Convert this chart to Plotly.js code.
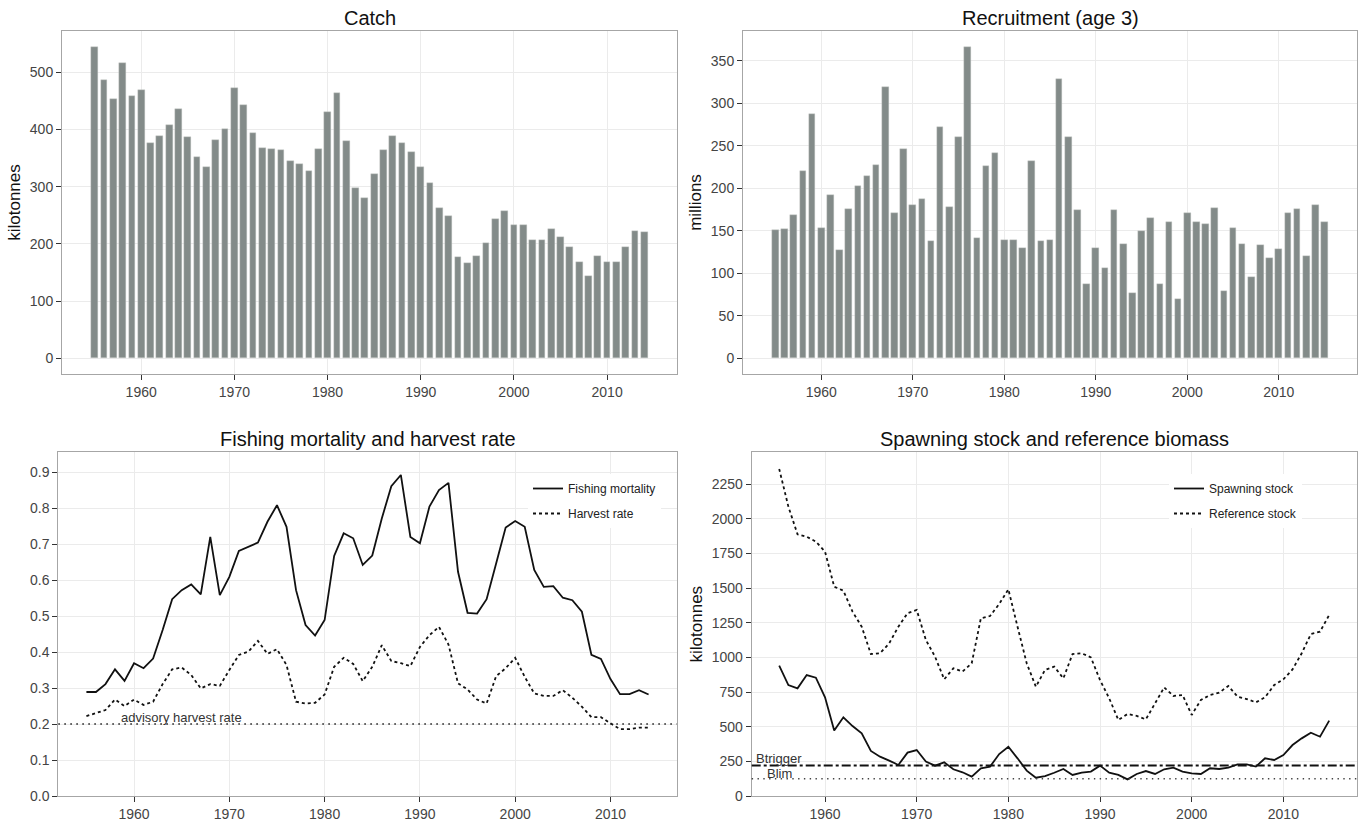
<!DOCTYPE html>
<html>
<head>
<meta charset="utf-8">
<script src="https://cdn.plot.ly/plotly-3.0.1.min.js"></script>
<style>html,body{margin:0;padding:0;background:#fff;}#chart{width:1364px;height:821px;}</style>
</head>
<body>
<div id="chart"></div>
<script>
// ---------- data ----------
const catchYears = [1955,1956,1957,1958,1959,1960,1961,1962,1963,1964,1965,1966,1967,1968,1969,1970,1971,1972,1973,1974,1975,1976,1977,1978,1979,1980,1981,1982,1983,1984,1985,1986,1987,1988,1989,1990,1991,1992,1993,1994,1995,1996,1997,1998,1999,2000,2001,2002,2003,2004,2005,2006,2007,2008,2009,2010,2011,2012,2013,2014];
const catchKt = [544,486,454,516,458,469,376,388,407,436,386,352,335,381,401,473,443,394,368,366,364,344,339,328,365,431,464,379,297,280,322,364,389,376,361,334,307,262,249,177,167,179,201,243,258,233,233,207,206,226,212,194,169,144,179,168,169,194,222,220];

const recYears = [1955,1956,1957,1958,1959,1960,1961,1962,1963,1964,1965,1966,1967,1968,1969,1970,1971,1972,1973,1974,1975,1976,1977,1978,1979,1980,1981,1982,1983,1984,1985,1986,1987,1988,1989,1990,1991,1992,1993,1994,1995,1996,1997,1998,1999,2000,2001,2002,2003,2004,2005,2006,2007,2008,2009,2010,2011,2012,2013,2014,2015];
const recruitMillions = [151,152,169,220,288,153,192,127,176,203,215,228,319,171,246,180,187,138,272,178,260,366,142,226,242,139,139,130,232,138,139,329,260,174,88,130,106,174,135,77,150,165,87,161,70,171,161,158,177,79,153,135,96,133,118,129,171,176,120,180,160];

const fmYears = [1955,1956,1957,1958,1959,1960,1961,1962,1963,1964,1965,1966,1967,1968,1969,1970,1971,1972,1973,1974,1975,1976,1977,1978,1979,1980,1981,1982,1983,1984,1985,1986,1987,1988,1989,1990,1991,1992,1993,1994,1995,1996,1997,1998,1999,2000,2001,2002,2003,2004,2005,2006,2007,2008,2009,2010,2011,2012,2013,2014];
const fishingMortality = [0.289,0.289,0.311,0.352,0.320,0.369,0.355,0.382,0.461,0.547,0.572,0.588,0.560,0.720,0.558,0.609,0.681,0.693,0.704,0.762,0.808,0.748,0.572,0.475,0.446,0.489,0.667,0.730,0.716,0.642,0.668,0.771,0.861,0.892,0.720,0.702,0.804,0.850,0.870,0.623,0.509,0.507,0.547,0.646,0.746,0.764,0.748,0.628,0.581,0.583,0.551,0.544,0.512,0.392,0.381,0.325,0.283,0.283,0.294,0.282];
const harvestRate = [0.222,0.230,0.239,0.268,0.250,0.268,0.253,0.262,0.311,0.352,0.357,0.336,0.299,0.311,0.306,0.350,0.392,0.401,0.431,0.395,0.408,0.364,0.262,0.257,0.259,0.282,0.359,0.384,0.367,0.319,0.359,0.419,0.375,0.369,0.361,0.414,0.447,0.470,0.421,0.313,0.296,0.268,0.257,0.333,0.355,0.384,0.331,0.285,0.278,0.278,0.294,0.273,0.248,0.219,0.219,0.202,0.186,0.186,0.190,0.190];
const advisoryHarvestRate = 0.2;

const ssbYears = [1955,1956,1957,1958,1959,1960,1961,1962,1963,1964,1965,1966,1967,1968,1969,1970,1971,1972,1973,1974,1975,1976,1977,1978,1979,1980,1981,1982,1983,1984,1985,1986,1987,1988,1989,1990,1991,1992,1993,1994,1995,1996,1997,1998,1999,2000,2001,2002,2003,2004,2005,2006,2007,2008,2009,2010,2011,2012,2013,2014,2015];
const spawningStock = [941,801,777,873,854,712,472,568,505,452,325,284,255,224,313,332,248,219,243,193,171,140,200,212,303,356,272,183,132,144,168,195,152,168,176,219,168,152,120,159,180,159,193,205,176,164,159,200,195,205,229,229,212,272,260,296,368,416,457,428,544];
const referenceStock = [2361,2089,1889,1872,1836,1764,1511,1482,1331,1222,1025,1030,1102,1222,1319,1343,1126,1006,842,922,898,958,1283,1299,1386,1492,1222,958,789,910,934,849,1025,1030,1001,837,705,549,592,578,553,664,784,722,729,585,693,729,746,794,717,700,676,712,801,842,914,1030,1169,1186,1307];
const bTrigger = 220;
const bLim = 125;

const decadeTicks = [1960,1970,1980,1990,2000,2010];
const panelTitles = ["Catch","Recruitment (age 3)","Fishing mortality and harvest rate","Spawning stock and reference biomass"];

// ---------- styling ----------
const W = 1364, H = 821;
const FONT = "Liberation Sans, Arial, Helvetica, sans-serif";
const barColor = "#838b89";
const px = v => v / W;
const py = v => 1 - v / H;

const dom = {
  p1: {x:[px(62), px(677)],   y:[py(374), py(31)]},
  p2: {x:[px(743), px(1357)], y:[py(374), py(31)]},
  p3: {x:[px(58.3), px(676.7)], y:[py(796), py(452.3)]},
  p4: {x:[px(751.7), px(1356.7)], y:[py(796), py(452.3)]}
};

function xax(domain, range, anchor) {
  return {
    domain: domain, range: range, anchor: anchor,
    tickvals: decadeTicks, ticks: "outside", ticklen: 5, tickwidth: 1, tickcolor: "#333",
    tickfont: {family: FONT, size: 14, color: "#444"},
    showgrid: true, gridcolor: "#ebebeb", gridwidth: 1, zeroline: false,
    showline: true, mirror: true, linecolor: "#a6a6a6", linewidth: 1,
    fixedrange: true
  };
}
function yax(domain, range, anchor, dtick, title, fmt) {
  const a = {
    domain: domain, range: range, anchor: anchor,
    tick0: 0, dtick: dtick, ticks: "outside", ticklen: 5, tickwidth: 1, tickcolor: "#333",
    tickfont: {family: FONT, size: 14, color: "#444"},
    showgrid: true, gridcolor: "#ebebeb", gridwidth: 1, zeroline: false,
    showline: true, mirror: true, linecolor: "#a6a6a6", linewidth: 1,
    fixedrange: true
  };
  if (fmt) a.tickformat = fmt;
  if (title) a.title = {text: title, font: {family: FONT, size: 17, color: "#111"}, standoff: 4};
  return a;
}

const traces = [
  {type: "bar", x: catchYears, y: catchKt, xaxis: "x", yaxis: "y", width: 0.72,
   marker: {color: barColor, line: {color: "#c9cfcd", width: 0.4}}, showlegend: false, hoverinfo: "x+y"},
  {type: "bar", x: recYears, y: recruitMillions, xaxis: "x2", yaxis: "y2", width: 0.72,
   marker: {color: barColor, line: {color: "#c9cfcd", width: 0.4}}, showlegend: false, hoverinfo: "x+y"},
  {type: "scatter", mode: "lines", x: fmYears, y: fishingMortality, xaxis: "x3", yaxis: "y3",
   name: "Fishing mortality", legend: "legend", legendgroup: "fm",
   line: {color: "#111", width: 1.8}},
  {type: "scatter", mode: "lines", x: fmYears, y: harvestRate, xaxis: "x3", yaxis: "y3",
   name: "Harvest rate", legend: "legend", legendgroup: "hr",
   line: {color: "#111", width: 1.8, dash: "3px,3px"}},
  {type: "scatter", mode: "lines", x: ssbYears, y: spawningStock, xaxis: "x4", yaxis: "y4",
   name: "Spawning stock", legend: "legend2", legendgroup: "ssb",
   line: {color: "#111", width: 1.8}},
  {type: "scatter", mode: "lines", x: ssbYears, y: referenceStock, xaxis: "x4", yaxis: "y4",
   name: "Reference stock", legend: "legend2", legendgroup: "ref",
   line: {color: "#111", width: 1.8, dash: "3px,3px"}}
];

const titleAnn = (text, d) => ({
  text: text, xref: "paper", yref: "paper", x: (d.x[0] + d.x[1]) / 2, y: d.y[1],
  xanchor: "center", yanchor: "bottom", yshift: 0, showarrow: false,
  font: {family: FONT, size: 20, color: "#111"}
});

const legendStyle = (x) => ({
  x: x, y: py(474), xanchor: "left", yanchor: "top",
  bgcolor: "#ffffff", borderwidth: 0, tracegroupgap: 6,
  font: {family: FONT, size: 12, color: "#222"}, itemwidth: 30
});

const layout = {
  width: W, height: H,
  margin: {l: 0, r: 0, t: 0, b: 0},
  paper_bgcolor: "#fff", plot_bgcolor: "#fff",
  bargap: 0,
  xaxis:  xax(dom.p1.x, [1951.5, 2017.5], "y"),
  yaxis:  yax(dom.p1.y, [-27.3, 572], "x", 100, "kilotonnes"),
  xaxis2: xax(dom.p2.x, [1951.45, 2018.55], "y2"),
  yaxis2: yax(dom.p2.y, [-18.3, 385], "x2", 50, "millions"),
  xaxis3: xax(dom.p3.x, [1952.05, 2016.95], "y3"),
  yaxis3: yax(dom.p3.y, [0, 0.955], "x3", 0.1, null, ".1f"),
  xaxis4: xax(dom.p4.x, [1952, 2018], "y4"),
  yaxis4: yax(dom.p4.y, [0, 2481], "x4", 250, "kilotonnes"),
  legend: legendStyle(px(528)),
  legend2: legendStyle(px(1169)),
  shapes: [
    {type: "line", xref: "x3 domain", x0: 0, x1: 1, yref: "y3", y0: advisoryHarvestRate, y1: advisoryHarvestRate,
     line: {color: "#222", width: 1.6, dash: "1.6px,4.4px"}, layer: "above"},
    {type: "line", xref: "x4 domain", x0: 0, x1: 1, yref: "y4", y0: bTrigger, y1: bTrigger,
     line: {color: "#111", width: 2, dash: "dashdot"}, layer: "above"},
    {type: "line", xref: "x4 domain", x0: 0, x1: 1, yref: "y4", y0: bLim, y1: bLim,
     line: {color: "#444", width: 1.4, dash: "1.4px,4.4px"}, layer: "above"}
  ],
  annotations: [
    titleAnn(panelTitles[0], dom.p1),
    titleAnn(panelTitles[1], dom.p2),
    titleAnn(panelTitles[2], dom.p3),
    titleAnn(panelTitles[3], dom.p4),
    {text: "advisory harvest rate", xref: "x3", yref: "y3", x: 1965, y: advisoryHarvestRate,
     xanchor: "center", yanchor: "middle", yshift: 7, showarrow: false,
     font: {family: FONT, size: 13, color: "#333"}},
    {text: "Btrigger", xref: "x4", yref: "y4", x: 1955, y: bTrigger,
     xanchor: "center", yanchor: "middle", yshift: 7, showarrow: false,
     font: {family: FONT, size: 13, color: "#333"}},
    {text: "Blim", xref: "x4", yref: "y4", x: 1955, y: bLim,
     xanchor: "center", yanchor: "middle", yshift: 5, showarrow: false,
     font: {family: FONT, size: 13, color: "#333"}}
  ]
};

Plotly.newPlot("chart", traces, layout, {displayModeBar: false, staticPlot: false});
</script>
</body>
</html>
